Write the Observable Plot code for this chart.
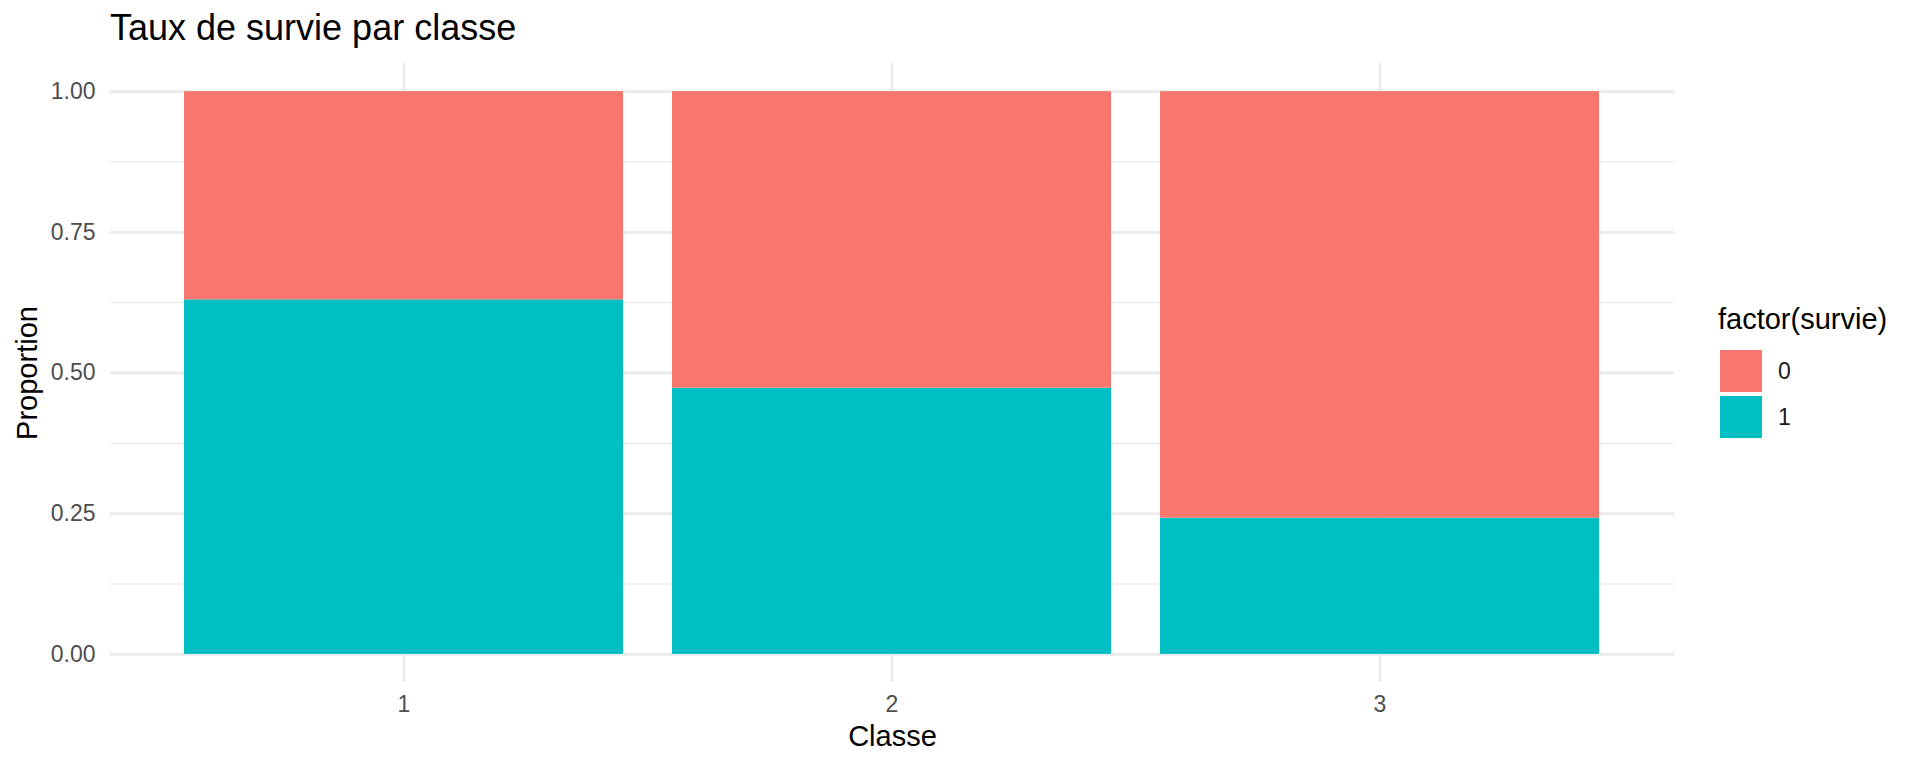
<!DOCTYPE html>
<html><head><meta charset="utf-8">
<script src="https://cdn.jsdelivr.net/npm/d3@7"></script>
<script src="https://cdn.jsdelivr.net/npm/@observablehq/plot@0.6"></script>
<style>
body{margin:0;background:#fff;font-family:"Liberation Sans",Arial,sans-serif;}
#wrap{position:relative;width:1920px;height:768px;overflow:hidden;background:#fff;}
#title{position:absolute;left:110px;top:10px;font-size:36px;line-height:36px;color:#000;white-space:nowrap;}
#chart{position:absolute;left:0;top:54px;}
#legend{position:absolute;left:1718px;top:305px;width:200px;height:150px;}
#legend .lt{position:absolute;left:0;top:0;font-size:29px;line-height:29px;color:#000;white-space:nowrap;}
#legend .key{position:absolute;left:2px;width:42px;height:42px;}
#legend .lab{position:absolute;left:60px;height:42px;line-height:42px;font-size:23px;color:#1a1a1a;}
</style></head><body>
<div id="wrap"><div id="title">Taux de survie par classe</div><div id="chart"></div><div id="legend"></div></div>
<script>
const classes = ["1", "2", "3"];
const survivalLevels = ["0", "1"];
const propSurvived = [0.630, 0.473, 0.242];
const propDied = [0.370, 0.527, 0.758];
const yTicks = [0, 0.25, 0.5, 0.75, 1];
const yMinorTicks = [0.125, 0.375, 0.625, 0.875];
const fillColors = ["#F8766D", "#00BFC4"];
const legendTitle = "factor(survie)";

const table = [];
classes.forEach((c, i) => {
  table.push({classe: c, survie: "1", proportion: propSurvived[i]});
  table.push({classe: c, survie: "0", proportion: propDied[i]});
});

const grid = "#EBEBEB";
const chart = Plot.plot({
  width: 1690, height: 714,
  marginLeft: 110, marginRight: 16, marginTop: 9, marginBottom: 86,
  style: {fontFamily: '"Liberation Sans", Arial, sans-serif', background: "white", overflow: "visible"},
  x: {domain: classes, paddingInner: 0.1, paddingOuter: 0.15, label: null},
  y: {domain: [-0.05, 1.05], label: null},
  color: {domain: survivalLevels, range: fillColors},
  marks: [
    Plot.ruleY(yMinorTicks, {stroke: grid, strokeWidth: 1.4}),
    Plot.gridY(yTicks, {stroke: grid, strokeWidth: 2.8, strokeOpacity: 1}),
    Plot.gridX(classes, {stroke: grid, strokeWidth: 2.8, strokeOpacity: 1}),
    Plot.barY(table, Plot.stackY({x: "classe", y: "proportion", fill: "survie"})),
    Plot.axisY(yTicks, {tickSize: 0, tickPadding: 15, tickFormat: d3.format(".2f"), fontSize: 23, color: "#4D4D4D", label: null}),
    Plot.axisX(classes, {tickSize: 0, tickPadding: 13, fontSize: 23, color: "#4D4D4D", label: null}),
    Plot.text(["Classe"], {text: d => d, frameAnchor: "bottom", textAnchor: "middle", lineAnchor: "bottom", dy: 63, fontSize: 29, fill: "#000"}),
    Plot.text(["Proportion"], {text: d => d, frameAnchor: "left", textAnchor: "middle", lineAnchor: "bottom", rotate: -90, dx: -74, fontSize: 29, fill: "#000"})
  ]
});
document.getElementById("chart").appendChild(chart);

const leg = document.getElementById("legend");
const lt = document.createElement("div");
lt.className = "lt"; lt.textContent = legendTitle; leg.appendChild(lt);
survivalLevels.forEach((lv, i) => {
  const top = 45 + i * 46;
  const k = document.createElement("div");
  k.className = "key"; k.style.top = top + "px"; k.style.background = fillColors[i];
  leg.appendChild(k);
  const l = document.createElement("div");
  l.className = "lab"; l.style.top = top + "px"; l.textContent = lv;
  leg.appendChild(l);
});
</script>
</body></html>
